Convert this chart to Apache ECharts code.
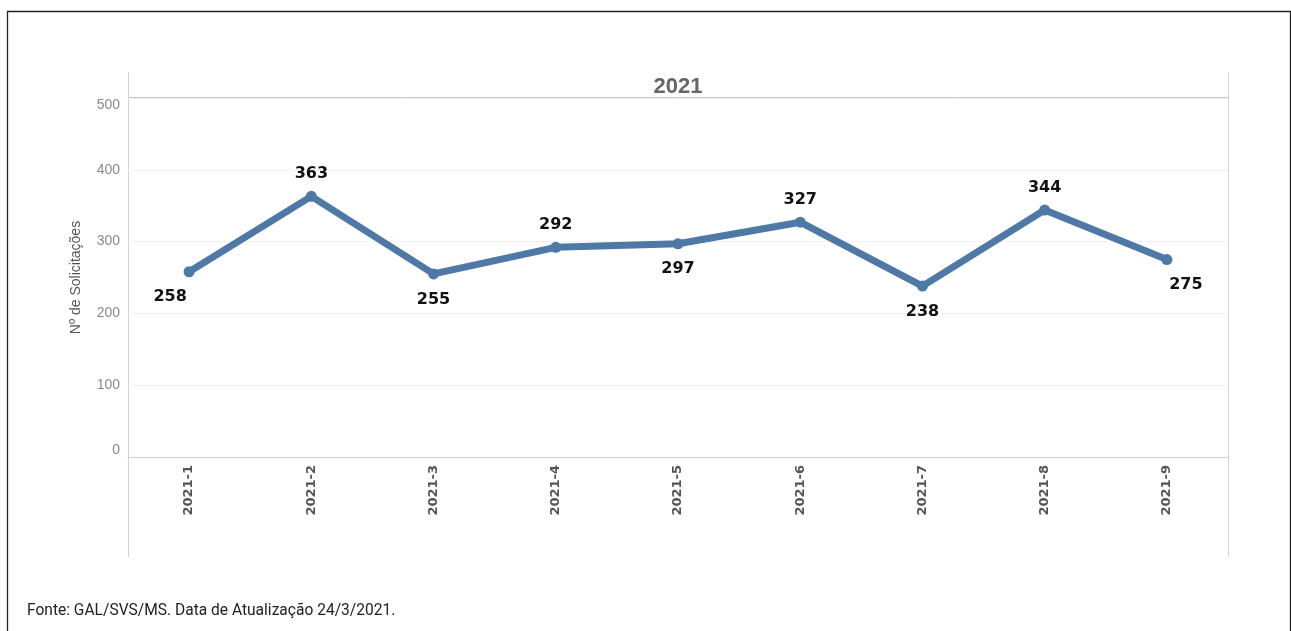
<!DOCTYPE html>
<html>
<head>
<meta charset="utf-8">
<style>
  html, body { margin: 0; padding: 0; background: #fff; }
  #chart { width: 1291px; height: 631px; }
</style>
<script src="https://cdn.jsdelivr.net/npm/echarts@6/dist/echarts.min.js"></script>
</head>
<body>
<div id="chart"></div>
<script>
// Monthly requests, 2021
const periods = ['2021-1', '2021-2', '2021-3', '2021-4', '2021-5', '2021-6', '2021-7', '2021-8', '2021-9'];
const requests = [258, 363, 255, 292, 297, 327, 238, 344, 275];
// where each value label sits relative to its point
const labelSides = ['bottom', 'top', 'bottom', 'top', 'bottom', 'top', 'bottom', 'top', 'bottom'];
const yTicks = [0, 100, 200, 300, 400, 500];

const yearTitle = '2021';
const yAxisName = 'Nº de Solicitações';
const sourceNote = 'Fonte: GAL/SVS/MS. Data de Atualização 24/3/2021.';

const chart = echarts.init(document.getElementById('chart'), null, { renderer: 'canvas' });

const lineColor = '#4e79a7';
const lastIdx = periods.length - 1;

const seriesData = requests.map((v, i) => {
  const label = { position: labelSides[i] };
  let dx = 0;
  if (i === 0) dx = -19;
  if (i === lastIdx) dx = 19;
  label.offset = [dx, labelSides[i] === 'top' ? 3 : 0];
  return { value: v, label: label };
});

chart.setOption({
  animation: false,
  backgroundColor: '#fff',
  grid: { left: 128, right: 63, top: 98, bottom: 174, containLabel: false },
  xAxis: {
    type: 'category',
    data: periods,
    boundaryGap: true,
    axisLine: { show: true, lineStyle: { color: '#cfcfcf', width: 1 } },
    axisTick: { show: false },
    splitLine: { show: false },
    axisLabel: {
      rotate: 90,
      margin: 8,
      fontFamily: 'DejaVu Sans, Verdana, sans-serif',
      fontSize: 13,
      fontWeight: 'bold',
      color: '#555'
    }
  },
  yAxis: {
    type: 'value',
    min: yTicks[0],
    max: yTicks[yTicks.length - 1],
    interval: 100,
    name: yAxisName,
    nameLocation: 'middle',
    nameRotate: 90,
    nameGap: 45,
    nameTextStyle: { fontFamily: 'Liberation Sans, Arial, sans-serif', fontSize: 14, color: '#555' },
    axisLine: { show: false },
    axisTick: { show: false },
    splitLine: { show: true, lineStyle: { color: '#f1f1f1', width: 1 } },
    axisLabel: {
      margin: 8,
      fontFamily: 'Liberation Sans, Arial, sans-serif',
      fontSize: 14,
      color: '#8a8a8a',
      verticalAlignMinLabel: 'bottom',
      verticalAlignMaxLabel: 'top'
    }
  },
  series: [{
    type: 'line',
    data: seriesData,
    lineStyle: { color: lineColor, width: 7 },
    itemStyle: { color: lineColor },
    symbol: 'circle',
    symbolSize: 11,
    label: {
      show: true,
      distance: 12,
      fontFamily: 'DejaVu Sans, Verdana, sans-serif',
      fontSize: 16,
      fontWeight: 'bold',
      color: '#111'
    },
    z: 3
  }],
  graphic: [
    // outer frame of the figure
    {
      type: 'rect', silent: true,
      shape: { x: 7.5, y: 11.5, width: 1283, height: 640 },
      style: { fill: 'none', stroke: '#222', lineWidth: 1.3 }
    },
    // pane borders
    {
      type: 'line', silent: true,
      shape: { x1: 128.5, y1: 72, x2: 128.5, y2: 557 },
      style: { stroke: '#d2d2d2', lineWidth: 1 }
    },
    {
      type: 'line', silent: true,
      shape: { x1: 1228.5, y1: 72, x2: 1228.5, y2: 557 },
      style: { stroke: '#d2d2d2', lineWidth: 1 }
    },
    {
      type: 'line', silent: true,
      shape: { x1: 128, y1: 97.5, x2: 1229, y2: 97.5 },
      style: { stroke: '#c8c8c8', lineWidth: 1 }
    },
    // year header
    {
      type: 'text', silent: true,
      x: 678, y: 87,
      style: {
        text: yearTitle,
        align: 'center',
        verticalAlign: 'middle',
        font: 'bold 22px "Liberation Sans", Arial, sans-serif',
        fill: '#666'
      }
    },
    // source note
    {
      type: 'text', silent: true,
      x: 27, y: 611,
      scaleX: 0.915,
      style: {
        text: sourceNote,
        verticalAlign: 'middle',
        font: '17px Roboto, sans-serif',
        fill: '#222'
      }
    }
  ]
});
</script>
</body>
</html>
